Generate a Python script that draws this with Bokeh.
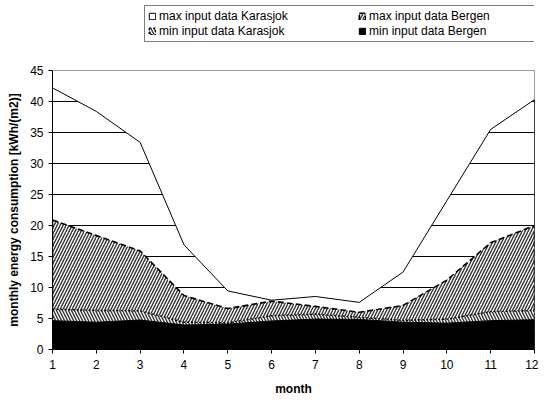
from bokeh.plotting import figure
from bokeh.layouts import column
from bokeh.models import Legend, LegendItem, FixedTicker, Range1d
from bokeh.embed import file_html
from bokeh.resources import INLINE

months = [1, 2, 3, 4, 5, 6, 7, 8, 9, 10, 11, 12]
max_karasjok = [42.2, 38.4, 33.4, 16.9, 9.45, 7.95, 8.55, 7.6, 12.5, 24.0, 35.5, 40.3]
max_bergen = [20.9, 18.4, 15.9, 8.7, 6.6, 7.8, 6.95, 6.0, 7.1, 11.2, 17.2, 20.0]
min_karasjok = [6.5, 6.3, 6.25, 4.4, 4.3, 5.45, 5.7, 5.2, 4.7, 4.9, 6.1, 6.3]
min_bergen = [4.65, 4.4, 4.75, 3.95, 4.1, 4.6, 4.9, 4.85, 4.4, 4.25, 4.65, 4.8]
y_ticks = [0, 5, 10, 15, 20, 25, 30, 35, 40, 45]

labels = ["max input data Karasjok", "max input data Bergen",
          "min input data Karasjok", "min input data Bergen"]

FONT = "Liberation Sans"

styles = [
    dict(fill_color="white", fill_alpha=0.0, line_color="black", line_width=1),
    dict(fill_color="white", hatch_pattern="/", hatch_color="#333333", hatch_scale=6,
         hatch_weight=1.4, line_color="black", line_width=1.6, line_dash="6 3"),
    dict(fill_color="white", hatch_pattern="\\", hatch_color="#333333", hatch_scale=6,
         hatch_weight=1.4, line_color="black", line_width=1.4, line_dash="2 2"),
    dict(fill_color="black", line_color="black", line_width=1),
]
series = [max_karasjok, max_bergen, min_karasjok, min_bergen]

def outline(vals):
    return months + months[::-1], list(vals) + [0] * len(months)

# ---------------- main chart ----------------
p = figure(width=538, height=352, output_backend="svg", toolbar_location=None,
           x_range=Range1d(1, 12), y_range=Range1d(0, 45),
           min_border_left=52, min_border_right=4, min_border_top=24, min_border_bottom=47)
p.background_fill_color = "white"
p.border_fill_color = "white"
p.outline_line_color = "#808080"

p.xaxis.ticker = FixedTicker(ticks=months)
p.yaxis.ticker = FixedTicker(ticks=y_ticks)
for ax in (p.xaxis, p.yaxis):
    ax.axis_line_color = "black"
    ax.major_tick_line_color = "black"
    ax.major_tick_out = 4
    ax.major_tick_in = 0
    ax.minor_tick_line_color = None
    ax.major_label_text_font = FONT
    ax.major_label_text_font_size = "12px"
    ax.major_label_text_color = "black"
    ax.axis_label_text_font = FONT
    ax.axis_label_text_font_size = "12px"
    ax.axis_label_text_font_style = "bold"
    ax.axis_label_text_color = "black"
p.xaxis.axis_label = "month"
p.yaxis.axis_label = "monthly energy consumption [kWh/(m2)]"
p.xaxis.major_label_standoff = 6
p.xaxis.axis_label_standoff = 10
p.yaxis.major_label_standoff = 5
p.yaxis.axis_label_standoff = 6

p.xgrid.grid_line_color = None
p.ygrid.grid_line_color = "black"
p.ygrid.grid_line_width = 1

# hide the horizontal grid lines above the Karasjok maximum
top = [45] * len(months)
p.varea(x=months, y1=max_karasjok, y2=top, fill_color="white")

for vals, st in zip(series, styles):
    xs, ys = outline(vals)
    p.patch(xs, ys, **st)

# ---------------- legend strip ----------------
# same series drawn again, but the view window is far away so only the key shows
lf = figure(width=538, height=46, output_backend="svg", toolbar_location=None,
            x_range=Range1d(1000, 1001), y_range=Range1d(1000, 1001),
            x_axis_location=None, y_axis_location=None,
            min_border_left=0, min_border_right=0, min_border_top=0, min_border_bottom=0)
lf.grid.visible = False
lf.outline_line_color = None
lf.background_fill_color = "white"
lf.border_fill_color = "white"

key_renderers = []
for vals, st in zip(series, styles):
    xs, ys = outline(vals)
    key_renderers.append(lf.patch(xs, ys, **st))

legend = Legend(items=[LegendItem(label=lab, renderers=[r])
                       for lab, r in zip(labels, key_renderers)],
                location=(92, 4), orientation="horizontal", ncols=2)
legend.label_text_font = FONT
legend.label_text_font_size = "12px"
legend.label_text_color = "black"
legend.glyph_width = 8
legend.glyph_height = 8
legend.label_standoff = 3
legend.label_height = 14
legend.label_width = 198
legend.spacing = 1
legend.padding = 3
legend.margin = 0
legend.border_line_color = "black"
legend.border_line_width = 1
legend.background_fill_color = "white"
legend.background_fill_alpha = 1.0
lf.add_layout(legend, "center")

layout = column(lf, p, spacing=0)
open("out.html", "w").write(file_html(layout, INLINE))
